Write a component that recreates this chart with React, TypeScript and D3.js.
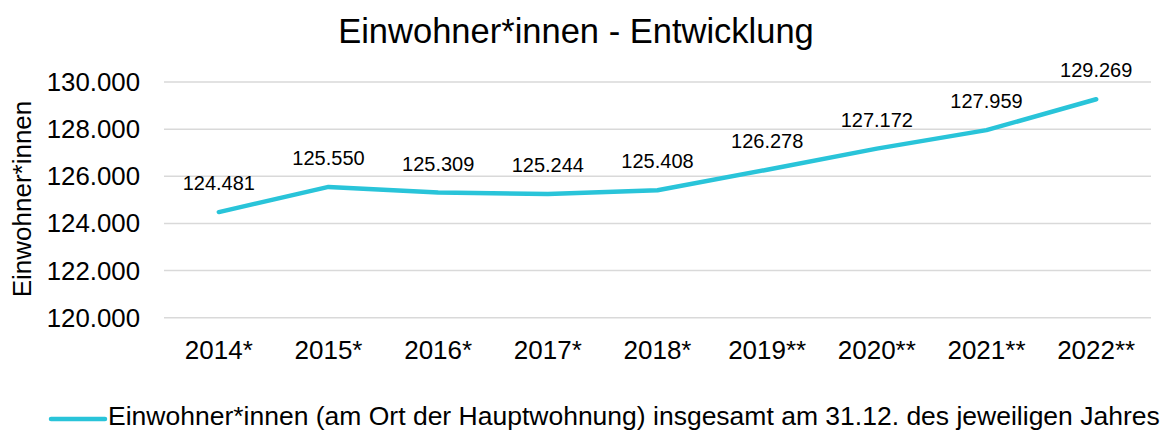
import React from "react";
import * as d3 from "d3";

const categories = ["2014*", "2015*", "2016*", "2017*", "2018*", "2019**", "2020**", "2021**", "2022**"];
const values = [124481, 125550, 125309, 125244, 125408, 126278, 127172, 127959, 129269];
const yTicks = [120000, 122000, 124000, 126000, 128000, 130000];
const title = "Einwohner*innen - Entwicklung";
const yTitle = "Einwohner*innen";
const legendLabel = "Einwohner*innen (am Ort der Hauptwohnung) insgesamt am 31.12. des jeweiligen Jahres";

const W = 1170;
const H = 430;
const FONT = "'Liberation Sans', Arial, sans-serif";
const COLOR = "#29c4d9";

const fmt = (v: number) => d3.format(",")(v).replace(/,/g, ".");

export default function App() {
  const x = d3.scaleBand<string>().domain(categories).range([164, 1151]);
  const y = d3.scaleLinear().domain([120000, 130000]).range([317.7, 82]);
  const line = d3
    .line<number>()
    .x((_, i) => (x(categories[i]) as number) + x.bandwidth() / 2)
    .y((d) => y(d))
    .curve(d3.curveLinear);

  return (
    <svg width={W} height={H} style={{ position: "absolute", left: 0, top: 0, background: "#fff" }} fontFamily={FONT}>
      <rect width={W} height={H} fill="#fff" />
      <text x={576} y={43} textAnchor="middle" fontSize={34.5} fill="#000">
        {title}
      </text>
      {yTicks.map((t) => (
        <g key={t}>
          <line x1={164} x2={1151} y1={y(t)} y2={y(t)} stroke="#d9d9d9" strokeWidth={1.5} />
          <text x={140} y={y(t)} dy="0.35em" textAnchor="end" fontSize={25.8} fill="#000">
            {fmt(t)}
          </text>
        </g>
      ))}
      <text transform={`translate(31,199) rotate(-90)`} textAnchor="middle" fontSize={26} fill="#000">
        {yTitle}
      </text>
      {categories.map((c) => (
        <text key={c} x={(x(c) as number) + x.bandwidth() / 2} y={359} textAnchor="middle" fontSize={26} fill="#000">
          {c}
        </text>
      ))}
      <path d={line(values) || ""} fill="none" stroke={COLOR} strokeWidth={4.5} strokeLinejoin="round" strokeLinecap="round" />
      {values.map((v, i) => (
        <text
          key={i}
          x={(x(categories[i]) as number) + x.bandwidth() / 2}
          y={y(v) - 22}
          textAnchor="middle"
          fontSize={20}
          fill="#000"
        >
          {fmt(v)}
        </text>
      ))}
      <line x1={51} x2={105} y1={419} y2={419} stroke={COLOR} strokeWidth={4.5} strokeLinecap="round" />
      <text x={108} y={425} fontSize={26.5} fill="#000">
        {legendLabel}
      </text>
    </svg>
  );
}
